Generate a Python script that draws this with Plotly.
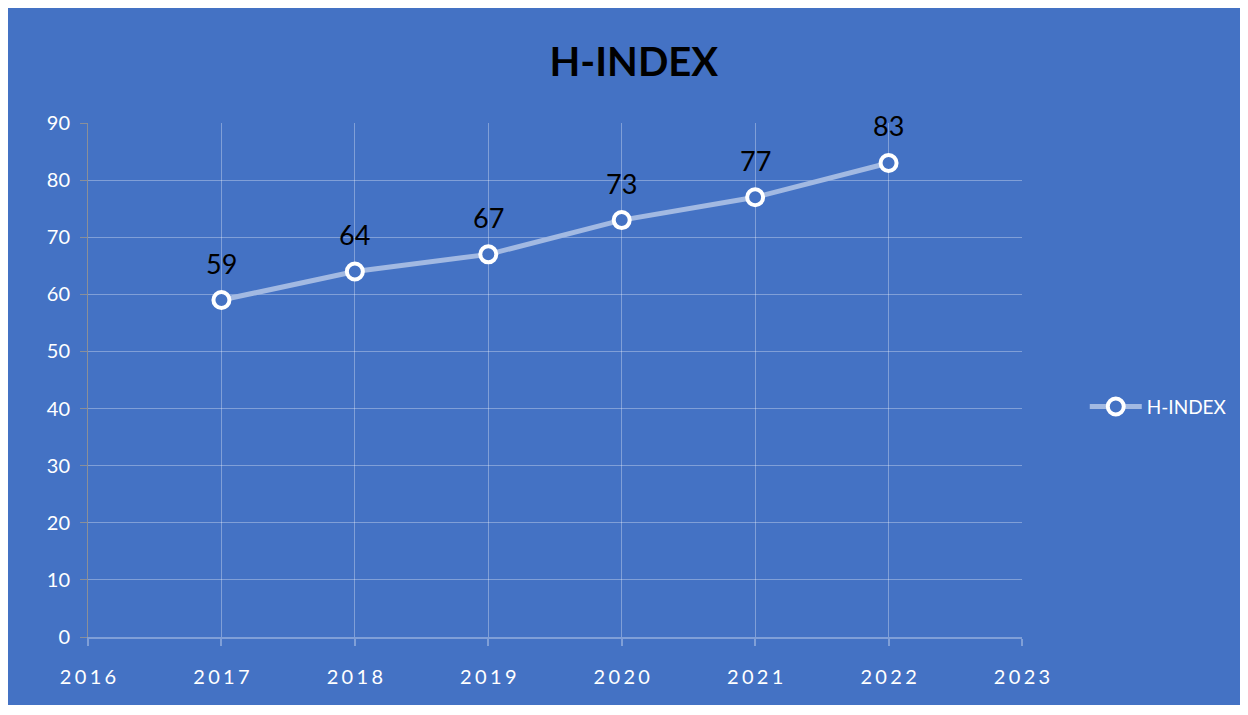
import plotly.graph_objects as go

years = [2017, 2018, 2019, 2020, 2021, 2022]
h_index = [59, 64, 67, 73, 77, 83]
x_ticks = [2016, 2017, 2018, 2019, 2020, 2021, 2022, 2023]
y_ticks = [0, 10, 20, 30, 40, 50, 60, 70, 80, 90]

BLUE = "#4472C4"
GRID = "rgba(255,255,255,0.32)"
FONT = "Lato, Carlito, sans-serif"

def spaced(s):
    return "\u2006".join(str(s))

fig = go.Figure()
fig.add_trace(go.Scatter(
    x=years, y=h_index, name="H-INDEX",
    mode="lines+markers",
    line=dict(color="#A2B9E2", width=5),
    marker=dict(size=16, color=BLUE, line=dict(color="white", width=4)),
))

for xv, yv in zip(years, h_index):
    fig.add_annotation(x=xv, y=yv, text=str(yv), showarrow=False,
                       yshift=37, font=dict(family=FONT, size=27, color="black"))

fig.update_layout(
    width=1232, height=697,
    paper_bgcolor=BLUE, plot_bgcolor=BLUE,
    margin=dict(l=80, r=218, t=115, b=68),
    font=dict(family=FONT, color="white"),
    title=dict(text="<b>H-INDEX</b>", x=0.508, xref="container", y=0.9225, yref="container",
               xanchor="center", yanchor="middle",
               font=dict(size=40, color="black", family=FONT)),
    showlegend=True,
    legend=dict(x=0.874, xref="container", y=0.428, yref="container",
                xanchor="left", yanchor="middle", itemwidth=52,
                font=dict(size=19, color="white"), bgcolor="rgba(0,0,0,0)"),
    xaxis=dict(range=[2016, 2023], tickvals=x_ticks, ticktext=[spaced(t) for t in x_ticks],
               showgrid=True, gridcolor=GRID, gridwidth=1,
               showline=True, linecolor=GRID, linewidth=2,
               ticks="outside", ticklen=7, tickcolor=GRID, tickwidth=2,
               tickfont=dict(size=20, color="white"), ticklabelstandoff=14,
               zeroline=False),
    yaxis=dict(range=[0, 90], tickvals=y_ticks,
               showgrid=True, gridcolor=GRID, gridwidth=1,
               showline=True, linecolor="#8a8f99", linewidth=1,
               ticks="outside", ticklen=7, tickcolor="#8a8f99",
               tickfont=dict(size=20, color="white"), ticklabelstandoff=6,
               zeroline=False),
)

fig.write_html("out.html")
